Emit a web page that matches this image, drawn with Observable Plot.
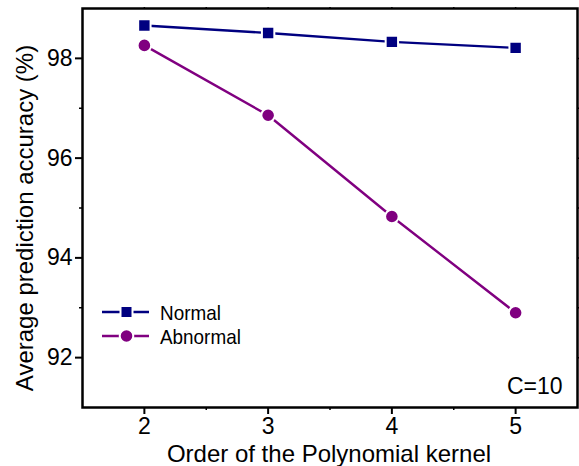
<!DOCTYPE html>
<html>
<head>
<meta charset="utf-8">
<script src="https://cdn.jsdelivr.net/npm/d3@7"></script>
<script src="https://cdn.jsdelivr.net/npm/@observablehq/plot@0.6"></script>
<style>
  body { margin: 0; background: #fff; }
  #chart { position: relative; width: 579px; height: 466px; }
  svg { font-family: "Liberation Sans", Arial, sans-serif; }
</style>
</head>
<body>
<div id="chart"></div>
<script>
const orders = [2, 3, 4, 5];
const normalAcc = [98.66, 98.51, 98.33, 98.21];
const abnormalAcc = [98.26, 96.86, 94.83, 92.90];
const seriesNames = ["Normal", "Abnormal"];
const seriesColors = ["#000080", "#800080"];
const xTicks = [2, 3, 4, 5];
const xMinorTicks = [2.5, 3.5, 4.5];
const yTicks = [92, 94, 96, 98];
const yMinorTicks = [93, 95, 97];
const annotation = "C=10";

const data = [];
orders.forEach((o, i) => {
  data.push({order: o, acc: normalAcc[i], series: seriesNames[0]});
  data.push({order: o, acc: abnormalAcc[i], series: seriesNames[1]});
});
const normalData = data.filter(d => d.series === seriesNames[0]);
const abnormalData = data.filter(d => d.series === seriesNames[1]);

const fs = 23;
const plot = Plot.plot({
  width: 579,
  height: 466,
  marginLeft: 82,
  marginRight: 2,
  marginTop: 8,
  marginBottom: 59,
  style: {fontSize: fs + "px", fontFamily: "'Liberation Sans', Arial, sans-serif", color: "#000"},
  x: {domain: [1.5, 5.5]},
  y: {domain: [91, 99]},
  marks: [
    Plot.axisX({ticks: xTicks, tickSize: 7, tickPadding: 3, tickFormat: d => d, label: null, strokeWidth: 2}),
    Plot.axisX({ticks: xMinorTicks, tickSize: 3, fill: "none", label: null, strokeWidth: 1.5}),
    Plot.axisX({anchor: "top", ticks: xTicks.concat(xMinorTicks), tickSize: 2, fill: "none", label: null, strokeWidth: 1.5}),
    Plot.axisY({ticks: yTicks, tickSize: 7, tickPadding: 3, tickFormat: d => d, label: null, strokeWidth: 2}),
    Plot.axisY({ticks: yMinorTicks, tickSize: 3, fill: "none", label: null, strokeWidth: 1.5}),
    Plot.axisY({anchor: "right", ticks: yTicks.concat(yMinorTicks), tickSize: 2, fill: "none", label: null, strokeWidth: 1.5}),
    Plot.line(normalData, {x: "order", y: "acc", stroke: seriesColors[0], strokeWidth: 2.4}),
    Plot.line(abnormalData, {x: "order", y: "acc", stroke: seriesColors[1], strokeWidth: 2.4}),
    Plot.dot(normalData, {x: "order", y: "acc", symbol: "square", r: 7, fill: seriesColors[0], stroke: "#fff", strokeWidth: 2}),
    Plot.dot(abnormalData, {x: "order", y: "acc", symbol: "circle", r: 6.8, fill: seriesColors[1], stroke: "#fff", strokeWidth: 2}),
    Plot.text([annotation], {frameAnchor: "bottom-right", dx: -15, dy: -14, text: d => d, fontSize: 23, textAnchor: "end"}),
    Plot.frame({stroke: "#000", strokeWidth: 2.5})
  ]
});

const svg = d3.select(plot);
// Axis titles
svg.append("text")
  .attr("x", 329).attr("y", 462)
  .attr("text-anchor", "middle")
  .attr("font-size", 24)
  .attr("fill", "#000")
  .text("Order of the Polynomial kernel");
svg.append("text")
  .attr("transform", "translate(33,218) rotate(-90)")
  .attr("text-anchor", "middle")
  .attr("font-size", 24)
  .attr("fill", "#000")
  .text("Average prediction accuracy (%)");

// Legend
const legend = svg.append("g");
seriesNames.forEach((name, i) => {
  const y = 312 + i * 24;
  const g = legend.append("g");
  g.append("line").attr("x1", 102).attr("x2", 149).attr("y1", y).attr("y2", y)
    .attr("stroke", seriesColors[i]).attr("stroke-width", 2.4);
  if (i === 0) {
    g.append("rect").attr("x", 120.5).attr("y", y - 6).attr("width", 12).attr("height", 12)
      .attr("fill", seriesColors[i]).attr("stroke", "#fff").attr("stroke-width", 2);
  } else {
    g.append("circle").attr("cx", 126.5).attr("cy", y).attr("r", 6.8)
      .attr("fill", seriesColors[i]).attr("stroke", "#fff").attr("stroke-width", 2);
  }
  g.append("text").attr("transform", `translate(160,${y + 7.5}) scale(0.9,1)`)
    .attr("text-anchor", "start")
    .attr("font-size", 21).attr("fill", "#000").text(name);
});

document.getElementById("chart").appendChild(plot);
</script>
</body>
</html>
